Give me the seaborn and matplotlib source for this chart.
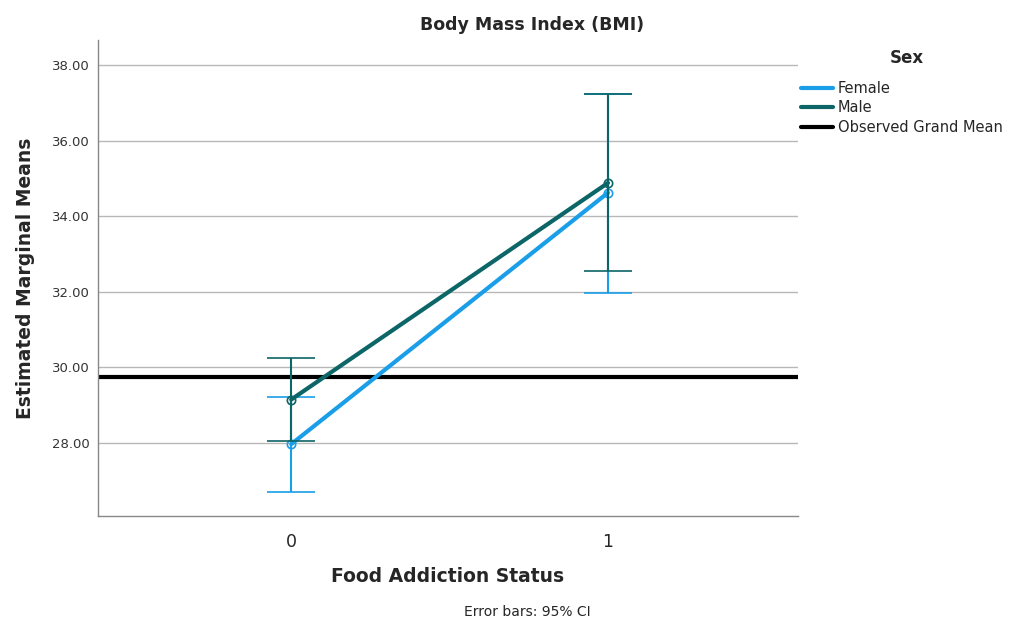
import matplotlib
matplotlib.use("Agg")
import matplotlib.pyplot as plt
import seaborn as sns
import pandas as pd
from matplotlib.lines import Line2D

status = [0, 1]
female_mean = [27.97, 34.62]
female_lo = [26.70, 31.98]
female_hi = [29.22, 37.23]
male_mean = [29.15, 34.88]
male_lo = [28.05, 32.55]
male_hi = [30.25, 37.23]
grand_mean = 29.74
yticks = [28, 30, 32, 34, 36, 38]

c_female = "#1a9ee8"
c_male = "#0c6566"

df = pd.DataFrame({
    "status": status * 2,
    "mean": female_mean + male_mean,
    "sex": ["Female"] * 2 + ["Male"] * 2,
})

sns.set_style("white")
plt.rcParams['font.family'] = ['DejaVu Sans']

fig = plt.figure(figsize=(10.27, 6.21), dpi=100)
ax = fig.add_axes([98 / 1027, 1 - 516 / 621, 700 / 1027, 476 / 621])

ax.set_xlim(-0.61, 1.60)
ax.set_ylim(26.07, 38.66)
ax.set_yticks(yticks)
ax.set_yticklabels([f"{v:.2f}" for v in yticks], fontsize=9.5, color="#333333")
ax.set_xticks(status)
ax.set_xticklabels([str(s) for s in status], fontsize=12.5)
for y in yticks:
    ax.axhline(y, color="#b8b8b8", lw=1, zorder=0)

ax.axhline(grand_mean, color="black", lw=3, zorder=2)

for sex, means, lo, hi, col, z in [("Female", female_mean, female_lo, female_hi, c_female, 3),
                                   ("Male", male_mean, male_lo, male_hi, c_male, 4)]:
    sub = df[df["sex"] == sex]
    sns.lineplot(data=sub, x="status", y="mean", color=col, lw=3, ax=ax, zorder=z,
                 legend=False)
    yerr = [[m - l for m, l in zip(means, lo)], [h - m for m, h in zip(means, hi)]]
    ax.errorbar(status, means, yerr=yerr, fmt="o", color=col, mfc="none", ms=6, mew=1.2,
                elinewidth=1.5, capsize=17, capthick=1.5, zorder=z)

for side in ["top", "right"]:
    ax.spines[side].set_visible(False)
for side in ["left", "bottom"]:
    ax.spines[side].set_color("#888888")
    ax.spines[side].set_linewidth(1)

ax.set_xlabel("Food Addiction Status", fontsize=13.5, fontweight="bold", labelpad=12)
ax.set_ylabel("Estimated Marginal Means", fontsize=13.5, fontweight="bold", labelpad=12)
fig.text(532 / 1027, 1 - 25 / 621, "Body Mass Index (BMI)", ha="center", va="center",
         fontsize=12.5, fontweight="bold")
ax.tick_params(axis="x", length=0, pad=12)
ax.tick_params(axis="y", length=0, pad=6)

handles = [Line2D([0], [0], color=c_female, lw=3),
           Line2D([0], [0], color=c_male, lw=3),
           Line2D([0], [0], color="black", lw=3)]
leg = fig.legend(handles, ["Female", "Male", "Observed Grand Mean"], loc="upper left",
                 bbox_to_anchor=(788 / 1027, 1 - 68 / 621), frameon=False, fontsize=10.5,
                 handlelength=2.2, handletextpad=0.3, labelspacing=0.3)
fig.text(907 / 1027, 1 - 58 / 621, "Sex", ha="center", va="center",
         fontsize=12, fontweight="bold")

fig.text(527 / 1027, 1 - 612 / 621, "Error bars: 95% CI", ha="center", va="center", fontsize=10)

fig.savefig("out.png", dpi=100)
